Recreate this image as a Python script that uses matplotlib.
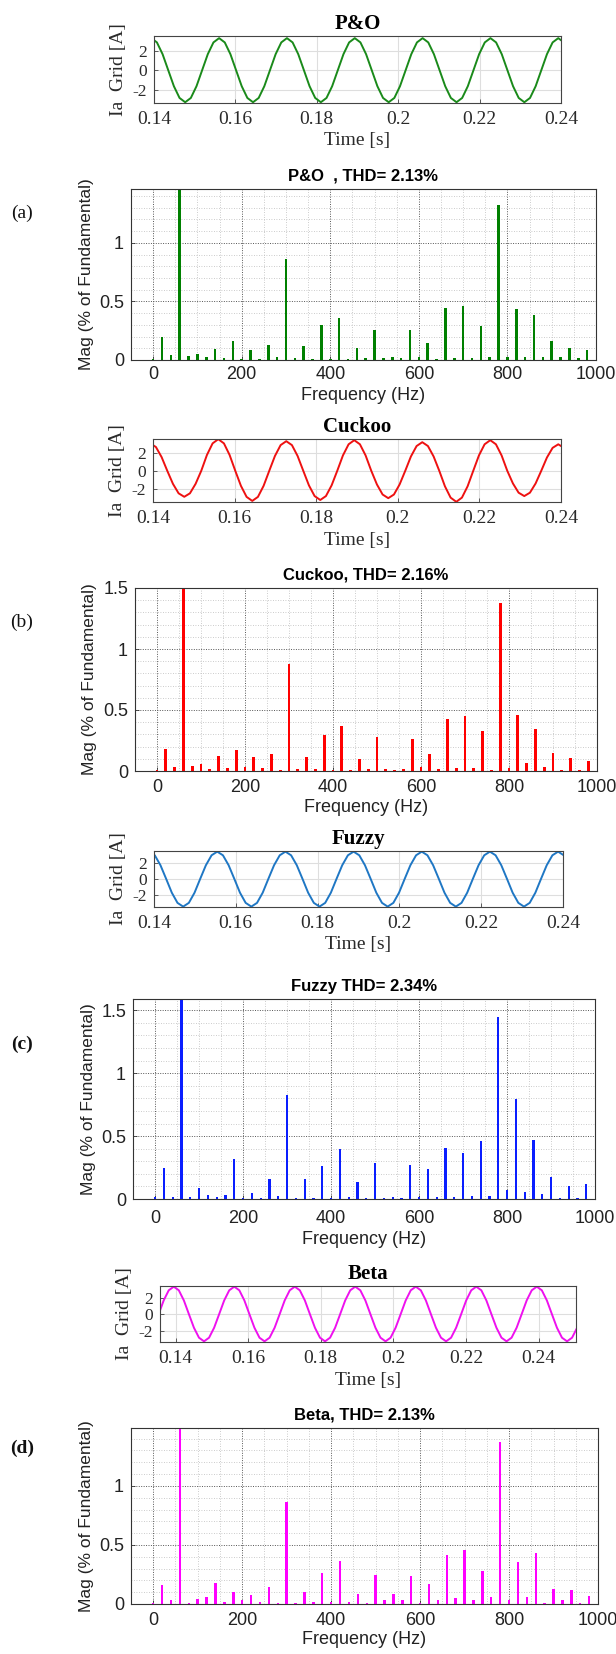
import matplotlib
matplotlib.use('Agg')
import matplotlib.pyplot as plt
import numpy as np
from matplotlib.ticker import MultipleLocator

W, H = 616, 1654
fig = plt.figure(figsize=(W / 100, H / 100), dpi=100)

SERIF = ['Liberation Serif', 'DejaVu Serif']
SANS = ['Liberation Sans', 'DejaVu Sans']

# ---------------- data ----------------
sample_rate = 720.0  # read-off points per second (every 30 deg of 60 Hz)

pno_t0 = 0.13933
pno_wave = [3.30, 2.86, 1.65, 0.00, -1.65, -2.86, -3.30, -2.86, -1.65, 0.00, 1.65, 2.86,
            3.30, 2.86, 1.65, 0.00, -1.65, -2.86, -3.30, -2.86, -1.65, 0.00, 1.65, 2.86,
            3.30, 2.86, 1.65, 0.00, -1.65, -2.86, -3.30, -2.86, -1.65, 0.00, 1.65, 2.86,
            3.30, 2.86, 1.65, 0.00, -1.65, -2.86, -3.30, -2.86, -1.65, 0.00, 1.65, 2.86,
            3.30, 2.86, 1.65, 0.00, -1.65, -2.86, -3.30, -2.86, -1.65, 0.00, 1.65, 2.86,
            3.30, 2.86, 1.65, 0.00, -1.65, -2.86, -3.30, -2.86, -1.65, 0.00, 1.65, 2.86,
            3.30, 2.86]

cuckoo_t0 = 0.13933
cuckoo_wave = [3.00, 2.60, 1.50, 0.00, -1.43, -2.47, -2.85, -2.47, -1.43, 0.00, 1.73, 3.00,
               3.46, 3.00, 1.73, 0.00, -1.65, -2.86, -3.30, -2.86, -1.65, 0.00, 1.62, 2.81,
               3.24, 2.81, 1.62, 0.00, -1.60, -2.77, -3.20, -2.77, -1.60, 0.00, 1.68, 2.90,
               3.35, 2.90, 1.68, 0.00, -1.50, -2.60, -3.00, -2.60, -1.50, 0.00, 1.57, 2.71,
               3.13, 2.71, 1.57, 0.00, -1.70, -2.94, -3.40, -2.94, -1.70, 0.00, 1.68, 2.90,
               3.35, 2.90, 1.68, 0.00, -1.39, -2.40, -2.77, -2.40, -1.39, 0.00, 1.45, 2.51,
               2.90, 2.51]

fuzzy_t0 = 0.1388
fuzzy_wave = [3.42, 2.96, 1.71, 0.00, -1.75, -3.03, -3.50, -3.03, -1.75, 0.00, 1.71, 2.96,
              3.42, 2.96, 1.71, 0.00, -1.75, -3.03, -3.50, -3.03, -1.75, 0.00, 1.71, 2.96,
              3.42, 2.96, 1.71, 0.00, -1.75, -3.03, -3.50, -3.03, -1.75, 0.00, 1.71, 2.96,
              3.42, 2.96, 1.71, 0.00, -1.75, -3.03, -3.50, -3.03, -1.75, 0.00, 1.71, 2.96,
              3.42, 2.96, 1.71, 0.00, -1.75, -3.03, -3.50, -3.03, -1.75, 0.00, 1.71, 2.96,
              3.42, 2.96, 1.71, 0.00, -1.75, -3.03, -3.50, -3.03, -1.75, 0.00, 1.71, 2.96,
              3.42, 2.96]

beta_t0 = 0.13533
beta_wave = [0.00, 1.66, 2.88, 3.32, 2.88, 1.66, 0.00, -1.64, -2.84, -3.28, -2.84, -1.64,
             0.00, 1.66, 2.88, 3.32, 2.88, 1.66, 0.00, -1.64, -2.84, -3.28, -2.84, -1.64,
             0.00, 1.66, 2.88, 3.32, 2.88, 1.66, 0.00, -1.64, -2.84, -3.28, -2.84, -1.64,
             0.00, 1.66, 2.88, 3.32, 2.88, 1.66, 0.00, -1.64, -2.84, -3.28, -2.84, -1.64,
             0.00, 1.66, 2.88, 3.32, 2.88, 1.66, 0.00, -1.64, -2.84, -3.28, -2.84, -1.64,
             0.00, 1.66, 2.88, 3.32, 2.88, 1.66, 0.00, -1.64, -2.84, -3.28, -2.84, -1.64,
             0.00, 1.66, 2.88, 3.32, 2.88, 1.66, 0.00, -1.64, -2.84, -3.28, -2.84, -1.64]

time_ticks = [0.14, 0.16, 0.18, 0.20, 0.22, 0.24]
time_tick_labels = ['0.14', '0.16', '0.18', '0.2', '0.22', '0.24']

# harmonic bins (Hz)
freqs = list(range(0, 1000, 20))

pno_mag = [0.005, 0.194, 0.046, 100, 0.030, 0.050, 0.025, 0.090, 0.017, 0.166,
           0.006, 0.089, 0.005, 0.128, 0.025, 0.866, 0.017, 0.120, 0.011, 0.303,
           0.005, 0.360, 0.010, 0.100, 0.017, 0.257, 0.017, 0.025, 0.014, 0.257,
           0.023, 0.149, 0.011, 0.440, 0.014, 0.457, 0.017, 0.291, 0.029, 1.326,
           0.023, 0.434, 0.029, 0.380, 0.023, 0.163, 0.023, 0.106, 0.017, 0.086]

cuckoo_mag = [0.010, 0.184, 0.033, 100, 0.041, 0.055, 0.014, 0.126, 0.025, 0.173,
              0.033, 0.113, 0.025, 0.143, 0.011, 0.879, 0.014, 0.115, 0.014, 0.297,
              0.005, 0.368, 0.011, 0.099, 0.014, 0.275, 0.014, 0.011, 0.014, 0.264,
              0.030, 0.143, 0.014, 0.426, 0.022, 0.450, 0.022, 0.327, 0.011, 1.374,
              0.027, 0.459, 0.063, 0.346, 0.036, 0.146, 0.011, 0.110, 0.011, 0.085]

fuzzy_mag = [0.013, 0.244, 0.013, 100, 0.019, 0.090, 0.029, 0.019, 0.029, 0.318,
             0.008, 0.048, 0.008, 0.162, 0.021, 0.828, 0.008, 0.162, 0.008, 0.263,
             0.011, 0.395, 0.013, 0.135, 0.008, 0.284, 0.008, 0.019, 0.011, 0.273,
             0.016, 0.236, 0.019, 0.408, 0.013, 0.363, 0.021, 0.459, 0.021, 1.446,
             0.074, 0.796, 0.058, 0.467, 0.037, 0.175, 0.008, 0.106, 0.008, 0.119]

beta_mag = [0.005, 0.164, 0.031, 100, 0.008, 0.040, 0.056, 0.175, 0.020, 0.100,
            0.031, 0.079, 0.020, 0.141, 0.008, 0.867, 0.011, 0.099, 0.020, 0.263,
            0.020, 0.367, 0.020, 0.082, 0.011, 0.249, 0.037, 0.082, 0.031, 0.234,
            0.011, 0.167, 0.031, 0.418, 0.048, 0.460, 0.031, 0.277, 0.056, 1.370,
            0.037, 0.353, 0.056, 0.432, 0.011, 0.130, 0.037, 0.116, 0.011, 0.068]

freq_ticks = [0, 200, 400, 600, 800, 1000]


def rect(x0, y0, x1, y1):
    return [x0 / W, 1 - y1 / H, (x1 - x0) / W, (y1 - y0) / H]


def time_axes(r, t0, wave, color, title, xlim, ylim):
    ax = fig.add_axes(r)
    t = t0 + np.arange(len(wave)) / sample_rate
    ax.plot(t, wave, color=color, lw=1.4)
    ax.set_xlim(*xlim)
    ax.set_ylim(*ylim)
    ax.set_xticks(time_ticks)
    ax.set_xticklabels(time_tick_labels)
    ax.set_yticks([-2, 0, 2])
    ax.set_yticklabels(['-2', '0', '2'])
    ax.grid(True, color='#dedede', lw=0.8)
    ax.set_axisbelow(True)
    for s in ax.spines.values():
        s.set_color('#444444')
        s.set_linewidth(0.8)
    ax.tick_params(direction='in', length=3, width=0.6, color='#444444')
    ax.tick_params(axis='x', labelsize=14, pad=6)
    ax.tick_params(axis='y', labelsize=12.5, pad=5)
    for lab in ax.get_xticklabels() + ax.get_yticklabels():
        lab.set_family(SERIF)
        lab.set_color('#2a2a2a')
    ax.set_title(title, family=SERIF, fontsize=15, fontweight='bold', pad=5)
    ax.set_xlabel('Time [s]', family=SERIF, fontsize=14, labelpad=3, color='#2a2a2a')
    ax.set_ylabel('Ia  Grid [A]', family=SERIF, fontsize=14, labelpad=4, color='#2a2a2a')
    return ax


def spec_axes(r, mag, color, title, ytop, yticks, ylabels, width=5.5, xpad=5, xlpad=2):
    ax = fig.add_axes(r)
    ax.bar(freqs, mag, width=width, color=color, linewidth=0)
    ax.set_xlim(-50, 1000)
    ax.set_ylim(0, ytop)
    ax.set_xticks(freq_ticks)
    ax.set_yticks(yticks)
    ax.set_yticklabels(ylabels)
    ax.xaxis.set_minor_locator(MultipleLocator(50))
    ax.yaxis.set_minor_locator(MultipleLocator(0.1))
    ax.grid(True, which='major', color='#555555', lw=0.7, linestyle=(0, (1, 1.5)))
    ax.grid(True, which='minor', color='#bbbbbb', lw=0.6, linestyle=(0, (1, 2)))
    ax.set_axisbelow(True)
    for s in ax.spines.values():
        s.set_color('#333333')
        s.set_linewidth(0.8)
    ax.tick_params(which='both', direction='in', color='#333333')
    ax.tick_params(which='major', length=3, width=0.6)
    ax.tick_params(which='minor', length=0)
    ax.tick_params(axis='y', labelsize=13, pad=5)
    ax.tick_params(axis='x', labelsize=13, pad=xpad)
    for lab in ax.get_xticklabels() + ax.get_yticklabels():
        lab.set_family(SANS)
        lab.set_color('#222222')
    ax.set_title(title, family=SANS, fontsize=12, fontweight='bold', pad=6)
    ax.set_xlabel('Frequency (Hz)', family=SANS, fontsize=13, labelpad=xlpad, color='#222222')
    ax.set_ylabel('Mag (% of Fundamental)', family=SANS, fontsize=12.5, labelpad=4, color='#222222')
    return ax


# (a) P&O
time_axes(rect(154, 36, 561, 103), pno_t0, pno_wave, '#1a8a1a', 'P&O',
          (0.14, 0.24), (-3.38, 3.52))
spec_axes(rect(131, 189, 596, 360), pno_mag, '#008000', 'P&O  , THD= 2.13%',
          1.46, [0, 0.5, 1], ['0', '0.5', '1'], xpad=4, xlpad=3)

# (b) Cuckoo
time_axes(rect(153, 439, 561, 502), cuckoo_t0, cuckoo_wave, '#ee1111', 'Cuckoo',
          (0.14, 0.24), (-3.42, 3.48))
spec_axes(rect(135, 588, 597, 771), cuckoo_mag, '#ff0000', 'Cuckoo, THD= 2.16%',
          1.5, [0, 0.5, 1, 1.5], ['0', '0.5', '1', '1.5'], width=6, xpad=6, xlpad=2)

# (c) Fuzzy
time_axes(rect(154, 851, 563, 907), fuzzy_t0, fuzzy_wave, '#1f77c4', 'Fuzzy',
          (0.14, 0.24), (-3.55, 3.5))
spec_axes(rect(133, 999, 595, 1199), fuzzy_mag, '#0a1eff', 'Fuzzy THD= 2.34%',
          1.59, [0, 0.5, 1, 1.5], ['0', '0.5', '1', '1.5'], width=5, xpad=8, xlpad=3)

# (d) Beta
time_axes(rect(160, 1286, 576, 1342), beta_t0, beta_wave, '#ee11ee', 'Beta',
          (0.1357, 0.2503), (-3.36, 3.4))
spec_axes(rect(131, 1428, 598, 1604), beta_mag, '#ff00ff', 'Beta, THD= 2.13%',
          1.49, [0, 0.5, 1], ['0', '0.5', '1'], xpad=6, xlpad=1)

# panel letters
for lab, y, wt in [('(a)', 213, 'normal'), ('(b)', 622, 'normal'),
                   ('(c)', 1044, 'bold'), ('(d)', 1448, 'bold')]:
    fig.text(22 / W, 1 - y / H, lab, family=SERIF, fontsize=14, fontweight=wt,
             ha='center', va='center', color='#111111')

fig.savefig('out.png', dpi=100)
